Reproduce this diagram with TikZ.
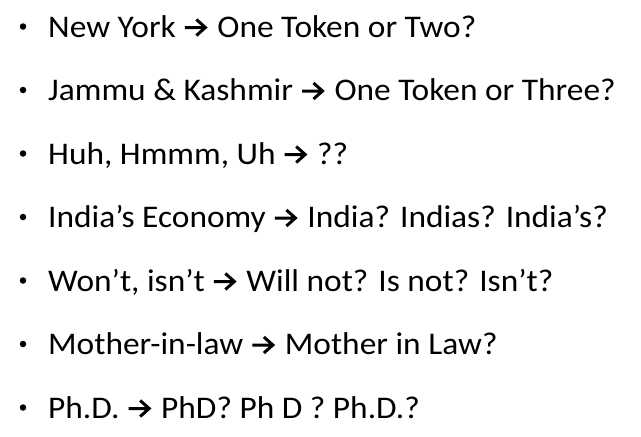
\documentclass[tikz,border=0pt]{standalone}
\usepackage{fontspec}
\setmainfont{Carlito}[FakeStretch=1.06]
\newcommand{\rarr}{\tikz[baseline=0pt,x=1pt,y=1pt]{\draw[line width=3pt,line join=miter,line cap=butt] (0,9.5)--(20,9.5) (11.5,1.5)--(20.5,9.5)--(11.5,17.5);}\kern3pt}
\begin{document}
\begin{tikzpicture}[x=1pt,y=-1pt,
  itemtext/.style={anchor=base west,inner sep=0pt,font=\fontsize{31.5}{34}\selectfont},
  bul/.style={circle,fill=black,inner sep=0pt,minimum size=6.5pt}]
\useasboundingbox (0,0) rectangle (641,437);
\foreach \t [count=\i from 0] in {
  {New York \rarr\ One Token or Two?},
  {Jammu \& Kashmir \rarr\ One Token or Three?},
  {Huh, Hmmm, Uh \rarr\ ??},
  {India’s Economy \rarr\ India? Indias? India’s?},
  {Won’t, isn’t \rarr\ Will not? Is not? Isn’t?},
  {Mother-in-law \rarr\ Mother in Law?},
  {Ph.D. \rarr\ PhD? Ph D ? Ph.D.?}} {
  \node[itemtext] (t\i) at (48,37+63.5*\i) {\t};
  \node[bul] (b\i) at (23,37+63.5*\i-10.5) {};
}
\end{tikzpicture}
\end{document}
